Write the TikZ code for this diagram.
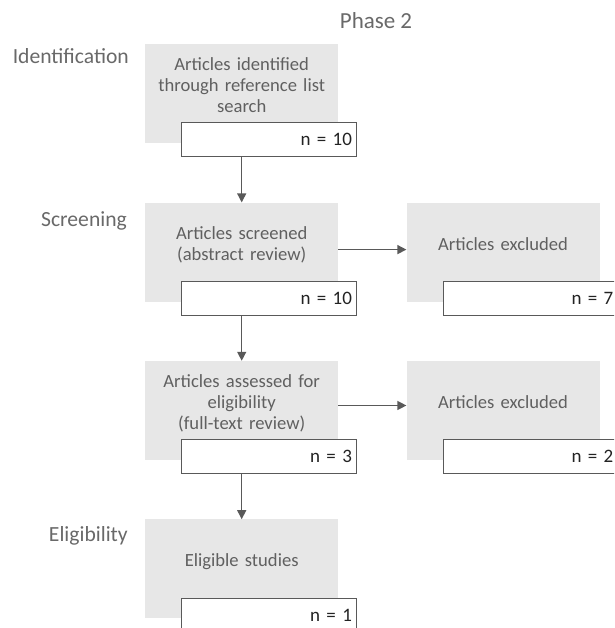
\documentclass[tikz,border=0pt]{standalone}
\usepackage{fontspec}
\setmainfont{Carlito}
\usetikzlibrary{arrows.meta,positioning}
\definecolor{boxgray}{RGB}{231,231,231}
\definecolor{textgray}{RGB}{96,96,96}
\definecolor{stagegray}{RGB}{105,105,105}
\definecolor{linegray}{RGB}{89,89,89}
\definecolor{countblack}{RGB}{35,35,35}
\tikzset{
  gbox/.style  ={rectangle, fill=boxgray, text=textgray, text width=180pt, align=center,
                 minimum width=193pt, minimum height=99pt, text depth=17pt, inner sep=0pt,
                 font=\fontsize{18.6}{21}\selectfont},
  twoline/.style ={text depth=38pt},
  threeline/.style ={text depth=59pt},
  nbox/.style  ={rectangle, draw=linegray, line width=1pt, fill=white, text=countblack,
                 minimum width=175pt, minimum height=34pt, text width=165pt, align=right,
                 inner sep=5pt, anchor=north east, font=\fontsize{19}{21}\selectfont},
  stage/.style ={text=stagegray, anchor=base east, inner sep=0pt,
                 font=\fontsize{21.6}{24}\selectfont},
  flow/.style  ={-{Triangle[length=9pt,width=9pt]}, draw=linegray, line width=1.3pt}
}
\begin{document}
\begin{tikzpicture}[node distance=59pt]
\useasboundingbox (0,0) rectangle (614pt,628pt);
\clip (0,0) rectangle (614pt,628pt);
% ---- Title ----
\node[text=stagegray, font=\fontsize{23}{26}\selectfont] (phase) at (376pt,607pt) {Phase 2};

% ---- Main column ----
\node[gbox, threeline, anchor=north west] (ident) at (145pt,584pt) {Articles identified\\through reference list\\search};
\node[gbox, twoline, below=of ident] (screen) {Articles screened\\(abstract review)};
\node[gbox, threeline, below=of screen] (assess) {Articles assessed for\\eligibility\\(full-text review)};
\node[gbox, below=of assess] (eligible) {Eligible studies};

% ---- Excluded column ----
\node[gbox, right=68pt of screen] (excl1) {Articles excluded};
\node[gbox, right=68pt of assess] (excl2) {Articles excluded};

% ---- Stage labels ----
\node[stage] (lident) at ([xshift=-16pt,yshift=-20pt]ident.north west) {Identification};
\node[stage] (lscreen) at ([xshift=-18pt,yshift=-24pt]screen.north west) {Screening};
\node[stage] (leligible) at ([xshift=-17pt,yshift=-22pt]eligible.north west) {Eligibility};

% ---- Edges ----
\draw[flow] (ident.south) -- (screen.north);
\draw[flow] (screen.south) -- (assess.north);
\draw[flow] (assess.south) -- (eligible.north);
\draw[flow] ([yshift=2.5pt]screen.east) -- ([yshift=2.5pt]excl1.west);
\draw[flow] ([yshift=5pt]assess.east) -- ([yshift=5pt]excl2.west);

% ---- Counts ----
\node[nbox] (nident) at ([xshift=19pt,yshift=21pt]ident.south east) {n = 10};
\node[nbox] (nscreen) at ([xshift=19pt,yshift=21pt]screen.south east) {n = 10};
\node[nbox] (nassess) at ([xshift=19pt,yshift=21pt]assess.south east) {n = 3};
\node[nbox] (neligible) at ([xshift=19pt,yshift=21pt]eligible.south east) {n = 1};
\node[nbox] (nexcl1) at ([xshift=19pt,yshift=21pt]excl1.south east) {n = 7};
\node[nbox] (nexcl2) at ([xshift=19pt,yshift=21pt]excl2.south east) {n = 2};
\end{tikzpicture}
\end{document}
